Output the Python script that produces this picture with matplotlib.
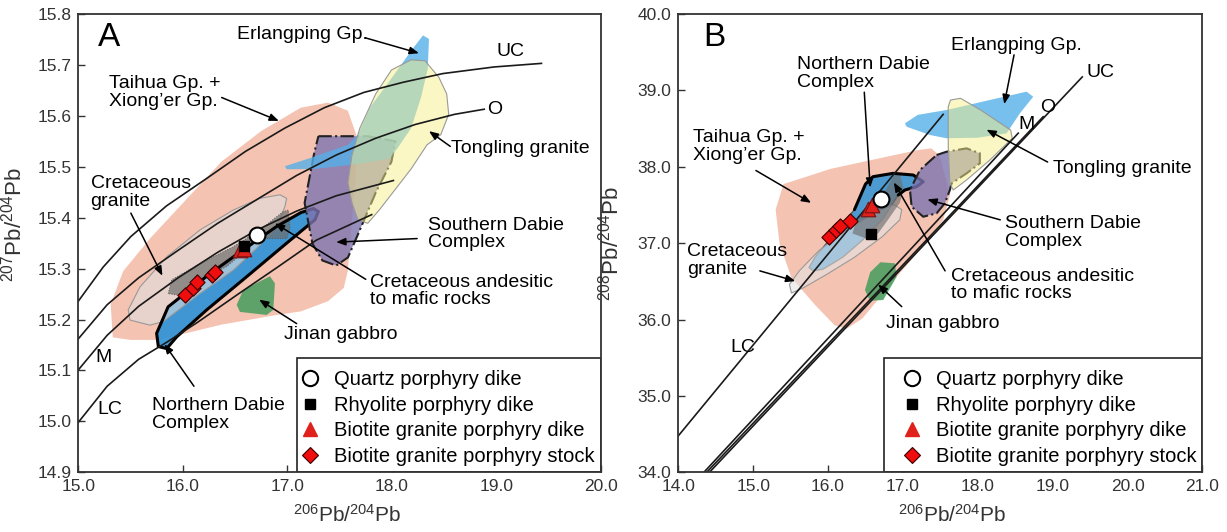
import matplotlib.pyplot as plt
from matplotlib.patches import Polygon, Rectangle
from matplotlib.lines import Line2D

plt.rcParams['font.family'] = ['Liberation Sans', 'DejaVu Sans']
plt.rcParams['mathtext.default'] = 'regular'

# ---------------- panel A : 207Pb/204Pb vs 206Pb/204Pb ----------------
a_taihua = [(15.33, 15.165), (15.31, 15.23), (15.43, 15.295), (15.69, 15.36), (16.03, 15.435),
            (16.37, 15.51), (16.75, 15.57), (17.13, 15.616), (17.39, 15.626), (17.58, 15.61),
            (17.66, 15.563), (17.66, 15.496), (17.62, 15.396), (17.58, 15.296), (17.54, 15.262),
            (17.39, 15.236), (17.13, 15.216), (16.90, 15.209), (16.37, 15.19), (15.77, 15.16),
            (15.5, 15.16)]
a_granite = [(15.478, 15.219), (15.59, 15.264), (15.846, 15.323), (16.165, 15.376), (16.483, 15.415),
             (16.739, 15.438), (16.93, 15.445), (16.994, 15.438), (16.978, 15.422), (16.899, 15.382),
             (16.707, 15.34), (16.483, 15.297), (16.165, 15.251), (15.813, 15.196), (15.686, 15.189),
             (15.495, 15.199)]
a_andesite = [(15.861, 15.251), (15.894, 15.278), (16.165, 15.31), (16.483, 15.343), (16.739, 15.376),
              (16.962, 15.412), (17.01, 15.415), (17.026, 15.379), (16.994, 15.359), (16.739, 15.359),
              (16.611, 15.337), (16.42, 15.304), (16.165, 15.278), (15.942, 15.248)]
a_ndabie = [(15.766, 15.147), (15.75, 15.173), (15.86, 15.225), (16.26, 15.29), (16.6, 15.34),
            (16.9, 15.383), (17.13, 15.41), (17.25, 15.418), (17.297, 15.412), (17.265, 15.396),
            (16.994, 15.35), (16.611, 15.284), (16.229, 15.219), (15.942, 15.166), (15.846, 15.143)]
a_jinan = [(16.516, 15.229), (16.579, 15.258), (16.834, 15.285), (16.882, 15.271), (16.866, 15.219),
           (16.803, 15.209), (16.547, 15.215)]
a_sdabie = [(17.298, 15.56), (17.77, 15.56), (18.035, 15.55), (17.997, 15.51), (17.846, 15.449),
            (17.695, 15.376), (17.581, 15.322), (17.468, 15.306), (17.336, 15.316), (17.241, 15.349),
            (17.166, 15.429), (17.26, 15.529)]
a_tongling = [(18.186, 15.71), (18.318, 15.708), (18.45, 15.676), (18.526, 15.643), (18.545, 15.603),
              (18.469, 15.563), (18.337, 15.543), (18.186, 15.496), (18.035, 15.456), (17.884, 15.416),
              (17.77, 15.389), (17.676, 15.396), (17.619, 15.429), (17.581, 15.469), (17.619, 15.523),
              (17.695, 15.576), (17.846, 15.643), (17.997, 15.69)]
a_erlangping = [(18.299, 15.758), (18.356, 15.751), (18.345, 15.693), (18.28, 15.636), (18.186, 15.576),
                (18.054, 15.536), (17.978, 15.516), (17.657, 15.505), (17.279, 15.496), (16.995, 15.495),
                (16.977, 15.501), (17.203, 15.516), (17.581, 15.543), (17.676, 15.563), (17.789, 15.616),
                (17.959, 15.663), (18.11, 15.706), (18.205, 15.733)]

a_uc_x = [15.0, 15.238, 15.503, 15.843, 16.221, 16.599, 16.977, 17.355, 17.733, 18.111, 18.489, 18.98, 19.433]
a_uc_y = [15.236, 15.303, 15.363, 15.423, 15.476, 15.53, 15.576, 15.616, 15.646, 15.666, 15.683, 15.696, 15.703]
a_o_x = [15.0, 15.276, 15.578, 15.956, 16.334, 16.712, 17.09, 17.468, 17.846, 18.224, 18.602, 18.885]
a_o_y = [15.162, 15.229, 15.282, 15.336, 15.389, 15.436, 15.483, 15.523, 15.556, 15.583, 15.603, 15.613]
a_m_x = [15.0, 15.276, 15.578, 15.956, 16.334, 16.712, 17.09, 17.468, 18.016]
a_m_y = [15.101, 15.169, 15.226, 15.282, 15.332, 15.376, 15.413, 15.443, 15.473]
a_lc_x = [15.0, 15.276, 15.578, 15.843, 16.145, 16.523, 16.901, 17.279, 17.808]
a_lc_y = [14.998, 15.069, 15.122, 15.155, 15.195, 15.249, 15.302, 15.356, 15.406]

a_quartz = ([16.707], [15.366])
a_rhyolite = ([16.585], [15.344])
a_bt_dike = ([16.545, 16.585], [15.336, 15.338])
a_bt_stock = ([16.021, 16.095, 16.139, 16.276, 16.308], [15.248, 15.261, 15.274, 15.287, 15.294])

# text, text position, arrow tail, arrow head
a_labels = [
    ('Erlangping Gp.', (16.523, 15.76), (17.75, 15.753), (18.26, 15.723)),
    ('UC', (19.0, 15.727), None, None),
    ('Taihua Gp. +\nXiong\u2019er Gp.', (15.295, 15.646), (16.372, 15.636), (16.92, 15.59)),
    ('O', (18.91, 15.613), None, None),
    ('Tongling granite', (18.564, 15.536), (18.56, 15.54), (18.356, 15.57)),
    ('Cretaceous\ngranite', (15.117, 15.449), (15.503, 15.409), (15.805, 15.286)),
    ('Southern Dabie\nComplex', (18.348, 15.368), (18.243, 15.359), (17.468, 15.352)),
    ('Cretaceous andesitic\nto mafic rocks', (17.789, 15.256), (17.751, 15.279), (16.882, 15.389)),
    ('Jinan gabbro', (16.969, 15.17), (17.09, 15.192), (16.731, 15.239)),
    ('M', (15.163, 15.125), None, None),
    ('LC', (15.18, 15.023), None, None),
    ('Northern Dabie\nComplex', (15.71, 15.014), (16.107, 15.069), (15.824, 15.152)),
]

# ---------------- panel B : 208Pb/204Pb vs 206Pb/204Pb ----------------
b_taihua = [(15.405, 37.773), (16.037, 37.973), (16.668, 38.107), (17.195, 38.218), (17.379, 38.241),
            (17.484, 38.151), (17.563, 37.884), (17.626, 37.617), (17.537, 37.305), (17.30, 36.993),
            (16.984, 36.637), (16.721, 36.325), (16.458, 36.013), (16.247, 35.88), (16.089, 35.924),
            (15.826, 36.192), (15.511, 36.548), (15.353, 36.993), (15.30, 37.439)]
b_granite = [(15.511, 36.347), (15.484, 36.459), (15.616, 36.637), (15.879, 36.904), (16.247, 37.171),
             (16.616, 37.394), (16.879, 37.506), (16.984, 37.439), (16.958, 37.305), (16.721, 37.082),
             (16.353, 36.815), (15.984, 36.592), (15.668, 36.414)]
b_andesite = [(16.326, 37.127), (16.379, 37.305), (16.563, 37.483), (16.774, 37.706), (16.879, 37.884),
              (16.958, 37.906), (17.011, 37.706), (16.958, 37.528), (16.80, 37.305), (16.668, 37.127),
              (16.511, 37.06)]
b_ndabie = [(15.747, 36.682), (15.826, 36.815), (16.089, 37.127), (16.353, 37.439), (16.50, 37.773),
            (16.60, 37.87), (16.87, 37.914), (17.137, 37.892), (17.271, 37.804), (17.183, 37.739),
            (17.027, 37.696), (16.937, 37.63), (16.721, 37.305), (16.458, 37.038),
            (16.195, 36.815), (15.932, 36.659), (15.80, 36.637)]
b_jinan = [(16.493, 36.386), (16.563, 36.62), (16.7, 36.75), (16.893, 36.736), (16.916, 36.561),
           (16.737, 36.256), (16.56, 36.245)]
b_sdabie = [(17.45, 38.154), (17.583, 38.197), (17.85, 38.241), (18.027, 38.176), (18.027, 38.045),
            (17.85, 37.914), (17.65, 37.783), (17.627, 37.696), (17.56, 37.522), (17.45, 37.391),
            (17.271, 37.346), (17.116, 37.477), (17.094, 37.696), (17.227, 37.958)]
b_tongling = [(17.636, 38.874), (17.77, 38.896), (18.037, 38.743), (18.438, 38.481), (18.46, 38.373),
              (18.161, 38.088), (17.85, 37.827), (17.672, 37.696), (17.627, 37.783), (17.605, 38.263),
              (17.605, 38.786)]
b_erlangping = [(17.027, 38.569), (17.2, 38.68), (17.583, 38.743), (18.161, 38.874), (18.651, 38.983),
                (18.74, 38.917), (18.562, 38.7), (18.385, 38.438), (18.0, 38.38), (17.583, 38.373),
                (17.36, 38.416), (17.049, 38.524)]

b_lc_x = [14.0, 17.537]
b_lc_y = [34.477, 38.686]
b_m_x = [14.342, 18.54]
b_m_y = [34.0, 38.44]
b_o_x = [14.379, 18.873]
b_o_y = [34.0, 38.655]
b_uc_x = [14.416, 19.395]
b_uc_y = [34.0, 39.176]

b_quartz = ([16.702], [37.574])
b_rhyolite = ([16.573], [37.116])
b_bt_dike = ([16.537, 16.582], [37.443, 37.5])
b_bt_stock = ([16.016, 16.105, 16.159, 16.29], [37.084, 37.172, 37.224, 37.294])

b_labels = [
    ('Erlangping Gp.', (17.642, 39.586), (18.484, 39.465), (18.353, 38.82)),
    ('Northern Dabie\nComplex', (15.579, 39.22), (16.484, 38.976), (16.563, 37.728)),
    ('UC', (19.458, 39.229), None, None),
    ('O', (18.826, 38.775), None, None),
    ('M', (18.537, 38.552), None, None),
    ('Taihua Gp. +\nXiong\u2019er Gp.', (14.195, 38.263), (15.037, 37.951), (15.774, 37.528)),
    ('Tongling granite', (19.01, 37.982), (18.932, 38.062), (18.116, 38.486)),
    ('Southern Dabie\nComplex', (18.368, 37.136), (18.30, 37.305), (17.326, 37.572)),
    ('Cretaceous\ngranite', (14.116, 36.77), (15.089, 36.637), (15.563, 36.503)),
    ('Cretaceous andesitic\nto mafic rocks', (17.642, 36.45), (17.563, 36.637), (16.879, 37.795)),
    ('Jinan gabbro', (16.774, 35.947), (16.984, 36.169), (16.668, 36.459)),
    ('LC', (14.695, 35.635), None, None),
]


def add_field(ax, pts, face, alpha, edge='none', lw=0.0, ls='-', z=1):
    ax.add_patch(Polygon(pts, closed=True, facecolor=face, alpha=alpha,
                         edgecolor='none', zorder=z))
    if edge != 'none':
        ax.add_patch(Polygon(pts, closed=True, facecolor='none', edgecolor=edge,
                             lw=lw, ls=ls, zorder=z + 0.05))


def draw_samples(ax, quartz, rhyolite, dike, stock):
    ax.scatter(*dike, marker='^', s=110, color='#e0201b', edgecolor='#7a1010', lw=0.8, zorder=20)
    ax.scatter(*rhyolite, marker='s', s=50, color='black', zorder=21)
    ax.scatter(*quartz, marker='o', s=130, color='white', edgecolor='black', lw=1.5, zorder=22)
    ax.scatter(*stock, marker='D', s=60, color='#f00d0d', edgecolor='#3a0000', lw=0.8, zorder=20)


def add_labels(ax, labels):
    for txt, pos, tail, head in labels:
        ax.text(pos[0], pos[1], txt, fontsize=14, ha='left', va='center', linespacing=1.05, zorder=30)
        if tail is not None:
            ax.annotate('', xy=head, xytext=tail, zorder=30,
                        arrowprops=dict(arrowstyle='-|>,head_length=0.55,head_width=0.22',
                                        color='black', lw=1.1, shrinkA=0, shrinkB=0))


def legend_box(ax, left, top):
    ax.add_patch(Rectangle((left, 0.0), 1.0 - left, top, transform=ax.transAxes,
                           facecolor='white', edgecolor='#222222', lw=1.2, zorder=39))
    h = [Line2D([], [], ls='none', marker='o', ms=11, mfc='white', mec='black', mew=1.5),
         Line2D([], [], ls='none', marker='s', ms=7, mfc='black', mec='black'),
         Line2D([], [], ls='none', marker='^', ms=10, mfc='#e0201b', mec='#e0201b'),
         Line2D([], [], ls='none', marker='D', ms=8, mfc='#f00d0d', mec='#3a0000', mew=0.8)]
    lab = ['Quartz porphyry dike', 'Rhyolite porphyry dike',
           'Biotite granite porphyry dike', 'Biotite granite porphyry stock']
    leg = ax.legend(h, lab, loc='lower right', bbox_to_anchor=(1.0, 0.0), borderaxespad=0.0,
                    fontsize=14.5, frameon=False, handlelength=1.0, handletextpad=0.7,
                    labelspacing=0.34, borderpad=0.3)
    leg.set_zorder(40)


def style_axes(ax):
    for s in ax.spines.values():
        s.set_linewidth(1.3)
        s.set_color('#333333')
        s.set_zorder(45)
    ax.tick_params(direction='in', length=5, width=1.0, labelsize=12.5, top=False, right=False,
                   colors='#333333', labelcolor='#333333', pad=5)


fig = plt.figure(figsize=(12.27, 5.32), dpi=100)
axA = fig.add_axes([0.0638, 0.1122, 0.4258, 0.8615])
axB = fig.add_axes([0.5528, 0.1122, 0.4272, 0.8615])

# ---- panel A ----
add_field(axA, a_taihua, '#f5c3b1', 1.0, z=1)
add_field(axA, a_ndabie, '#2f93d6', 0.92, z=2)
add_field(axA, a_granite, '#dedede', 0.6, edge='#999999', lw=0.8, z=3)
add_field(axA, a_andesite, '#6e6e6e', 0.7, edge='#555555', lw=0.7, ls=':', z=4)
add_field(axA, a_jinan, '#4e9e62', 0.9, z=4)
axA.add_patch(Polygon(a_ndabie, closed=True, facecolor='none', edgecolor='black', lw=2.2, zorder=5))
add_field(axA, a_sdabie, '#7d74b0', 0.8, edge='#222222', lw=1.5, ls='-.', z=6)
add_field(axA, a_erlangping, '#55b0e8', 0.8, z=7)
add_field(axA, a_tongling, '#f8f08a', 0.5, edge='#999999', lw=0.8, z=8)

for xs, ys in [(a_uc_x, a_uc_y), (a_o_x, a_o_y), (a_m_x, a_m_y), (a_lc_x, a_lc_y)]:
    axA.plot(xs, ys, color='#1a1a1a', lw=1.2, zorder=10)

draw_samples(axA, a_quartz, a_rhyolite, a_bt_dike, a_bt_stock)
add_labels(axA, a_labels)
axA.text(15.295, 15.753, 'A', fontsize=24, ha='center', va='center')

axA.set_xlim(15.0, 20.0)
axA.set_ylim(14.9, 15.8)
axA.set_xticks([15.0, 16.0, 17.0, 18.0, 19.0, 20.0])
axA.set_xticklabels(['15.0', '16.0', '17.0', '18.0', '19.0', '20.0'])
axA.set_yticks([14.9, 15.0, 15.1, 15.2, 15.3, 15.4, 15.5, 15.6, 15.7, 15.8])
axA.set_yticklabels(['14.9', '15.0', '15.1', '15.2', '15.3', '15.4', '15.5', '15.6', '15.7', '15.8'])
axA.set_xlabel('$^{206}$Pb/$^{204}$Pb', fontsize=15, color='#333333')
axA.set_ylabel('$^{207}$Pb/$^{204}$Pb', fontsize=16, color='#333333')
axA.xaxis.set_label_coords(0.514, -0.07)
axA.yaxis.set_label_coords(-0.1, 0.54)
style_axes(axA)
legend_box(axA, 0.419, 0.249)

# ---- panel B ----
add_field(axB, b_taihua, '#f5c3b1', 1.0, z=1)
add_field(axB, b_ndabie, '#2f93d6', 0.85, edge='#555555', lw=1.0, z=2)
add_field(axB, b_granite, '#e4e4e4', 0.6, edge='#999999', lw=0.8, z=3)
add_field(axB, b_andesite, '#6e6e6e', 0.65, z=4)
add_field(axB, b_jinan, '#4e9e62', 0.9, z=4)
axB.plot([p[0] for p in b_ndabie[3:12]], [p[1] for p in b_ndabie[3:12]],
         color='black', lw=2.2, zorder=5, solid_capstyle='round')
add_field(axB, b_sdabie, '#7d74b0', 0.8, edge='#222222', lw=1.5, ls='-.', z=6)
add_field(axB, b_erlangping, '#55b0e8', 0.8, z=7)
add_field(axB, b_tongling, '#f8f08a', 0.5, edge='#999999', lw=0.8, z=8)

for xs, ys in [(b_lc_x, b_lc_y), (b_m_x, b_m_y), (b_o_x, b_o_y), (b_uc_x, b_uc_y)]:
    axB.plot(xs, ys, color='#1a1a1a', lw=1.2, zorder=10)

draw_samples(axB, b_quartz, b_rhyolite, b_bt_dike, b_bt_stock)
add_labels(axB, b_labels)
axB.text(14.484, 39.688, 'B', fontsize=24, ha='center', va='center')

axB.set_xlim(14.0, 21.0)
axB.set_ylim(34.0, 40.0)
axB.set_xticks([14.0, 15.0, 16.0, 17.0, 18.0, 19.0, 20.0, 21.0])
axB.set_xticklabels(['14.0', '15.0', '16.0', '17.0', '18.0', '19.0', '20.0', '21.0'])
axB.set_yticks([34.0, 35.0, 36.0, 37.0, 38.0, 39.0, 40.0])
axB.set_yticklabels(['34.0', '35.0', '36.0', '37.0', '38.0', '39.0', '40.0'])
axB.set_xlabel('$^{206}$Pb/$^{204}$Pb', fontsize=15, color='#333333')
axB.set_ylabel('$^{208}$Pb/$^{204}$Pb', fontsize=16, color='#333333')
axB.xaxis.set_label_coords(0.522, -0.07)
axB.yaxis.set_label_coords(-0.105, 0.5)
style_axes(axB)
legend_box(axB, 0.392, 0.25)

fig.savefig('out.png', dpi=100)
